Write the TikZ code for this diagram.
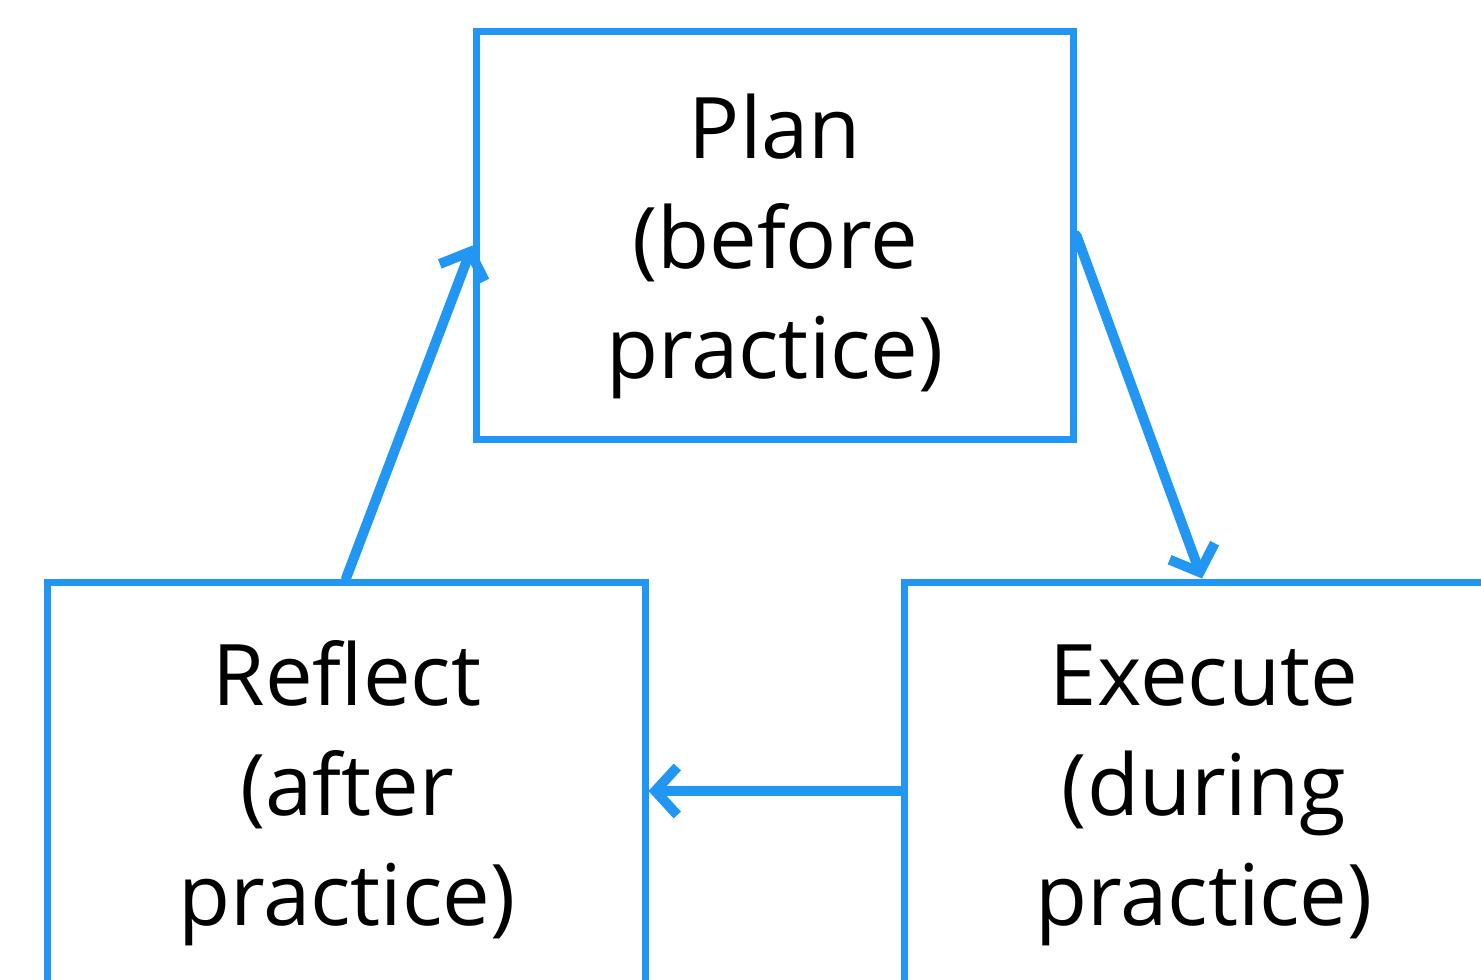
\documentclass[tikz,border=0pt]{standalone}
\usepackage{fontspec}
\setmainfont{Open Sans}
\usetikzlibrary{arrows.meta}
\definecolor{boxblue}{RGB}{33,150,243}
\tikzset{
  stagebox/.style={draw=boxblue, line width=3.5pt, rectangle, inner sep=0pt},
  stagetext/.style={align=center, font=\fontsize{42.5}{55}\selectfont, text=black, inner sep=0pt},
  flow/.style={draw=boxblue, line width=5pt, line cap=round,
    -{Straight Barb[length=11pt, width=24pt, line width=5pt]}}
}
\begin{document}
\begin{tikzpicture}[x=0.5pt, y=-0.5pt]
\useasboundingbox (0,0) rectangle (1481,979);
\clip (0,0) rectangle (1481,979);
\node[stagebox, minimum width=298.5pt, minimum height=203.5pt] (p) at (774.5,235.5) {};
\node[stagebox, minimum width=299pt, minimum height=209pt] (r) at (346,791) {};
\node[stagebox, minimum width=298pt, minimum height=209pt] (e) at (1202,791) {};
\node[stagetext] (pt) at (775,246) {Plan\\(before\\practice)};
\node[stagetext] (rt) at (347,793) {Reflect\\(after\\practice)};
\node[stagetext] (et) at (1204,795) {Execute\\(during\\practice)};
\draw[flow] (r.north) -- ([yshift=-5pt]p.west);
\draw[flow] (p.east) -- (e.north);
\draw[flow] (e.west) -- (r.east);
\end{tikzpicture}
\end{document}
